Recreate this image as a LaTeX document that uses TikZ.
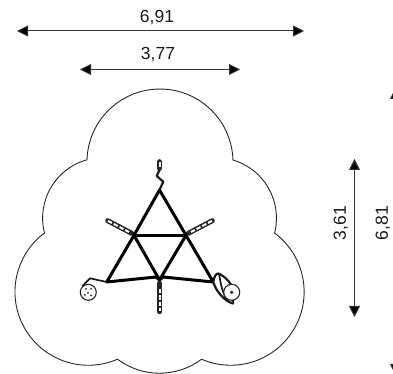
\documentclass[tikz,border=0pt]{standalone}
\usepackage{fontspec}
\setmainfont{Liberation Sans}
\usetikzlibrary{arrows.meta}
\tikzset{
  outline/.style={draw=black!85,line width=0.9pt,line join=miter},
  dim/.style={draw=black!80,line width=1pt,{Triangle[length=11pt,width=11pt,fill=black]}-{Triangle[length=11pt,width=11pt,fill=black]}},
  lab/.style={font=\fontsize{17.5}{20}\selectfont,text=black!90,inner sep=0pt},
  frame/.style={line width=3pt,black,line cap=round,line join=round},
  barO/.style={line width=5pt,black!85,line cap=round},
  barI/.style={line width=2pt,white,dash pattern=on 4.5pt off 2pt},
  thin/.style={line width=1.7pt,black!90,line join=round},
  wheel/.style={draw=black!85,fill=white,line width=1.1pt}
}
\begin{document}
\begin{tikzpicture}[x=1pt,y=1pt]
\useasboundingbox (0,0) rectangle (393,374);
\clip (0,0) rectangle (393,374);
% outline
\coordinate (A) at (87,214);
\draw[outline] (A) arc[start angle=178.4,end angle=1.6,radius=73pt]
  arc[start angle=73.7,end angle=-14.3,radius=60.5pt]
  arc[start angle=53.3,end angle=-113.4,radius=73.4pt]
  arc[start angle=-53.1,end angle=-126.9,radius=70pt]
  arc[start angle=-66.6,end angle=-233.3,radius=73.4pt]
  arc[start angle=194.3,end angle=106.3,radius=60.5pt] -- cycle;
% dimensions
\coordinate (h1a) at (17,343); \coordinate (h1b) at (304,343);
\coordinate (h2a) at (80,304.5); \coordinate (h2b) at (240,304.5);
\coordinate (v1a) at (354.5,215); \coordinate (v1b) at (354.5,57);
\coordinate (v2a) at (395.5,286); \coordinate (v2b) at (395.5,-1);
\draw[dim] (h1a) -- (h1b);
\draw[dim] (h2a) -- (h2b);
\draw[dim] (v1a) -- (v1b);
\draw[dim] (v2a) -- (v2b);
\node[lab] (t691) at (157,356) {6,91};
\node[lab] (t377) at (158,319) {3,77};
\node[lab,rotate=90] (t361) at (341,151) {3,61};
\node[lab,rotate=90] (t681) at (383,151) {6,81};
% frame
\coordinate (T) at (159.5,184);
\coordinate (L) at (134,138.7);
\coordinate (R) at (186,138.7);
\coordinate (M) at (159.5,94);
\coordinate (BL) at (106.7,92);
\coordinate (BR) at (213.3,92);
% bars
\draw[barO] (107.7,153.3) -- (131.7,140.7);
\draw[barI] (108,153.1) -- (129,142);
\draw[barO] (212.3,153.3) -- (188.3,140.7);
\draw[barI] (212,153.1) -- (191,142);
\draw[barO] (159.5,90.7) -- (159.5,62.3);
\draw[barI] (159.5,85) -- (159.5,62.5);
\draw[barO] (159.5,212.3) -- (159.5,205.5);
\draw[barI] (159.5,211.5) -- (159.5,207);
% frame lines
\draw[frame] (BL) -- (L) -- (T) -- (R) -- (BR);
\draw[frame] (L) -- (R);
\draw[frame] (L) -- (M) -- (R);
\draw[frame] (BL) -- (156,97) -- (M);
\draw[frame] (BR) -- (163,97) -- (M);
% zigzag
\draw[thin,line width=2.2pt] (159.5,204) -- (156.7,198) -- (163.3,192.3) -- (T);
% left wheel
\node[wheel,circle,minimum size=16pt,inner sep=0pt] (w1) at (88.3,81.7) {};
\draw[thin] (BL) -- (90,95.7) -- (w1.north west);
\fill[black!85] (86,85) circle (1pt) (91,85) circle (1pt) (88,81) circle (1pt) (85,79) circle (1pt) (91,78.5) circle (1pt);
% right wheel
\draw[thin,line width=2.2pt,fill=white] (BR) .. controls (214,97) and (216,101) .. (218.5,100.5)
  .. controls (226,97) and (232,90) .. (233,84) -- (233,70.5) .. controls (226,72) and (216,82) .. cycle;
\draw[thin] (219,100) .. controls (221,90) and (222,80) .. (229,72);
\node[wheel,circle,minimum size=16pt,inner sep=0pt] (w2) at (231.7,81.7) {};
\fill[black!85] (231.7,81.7) circle (1.8pt);
\end{tikzpicture}
\end{document}
